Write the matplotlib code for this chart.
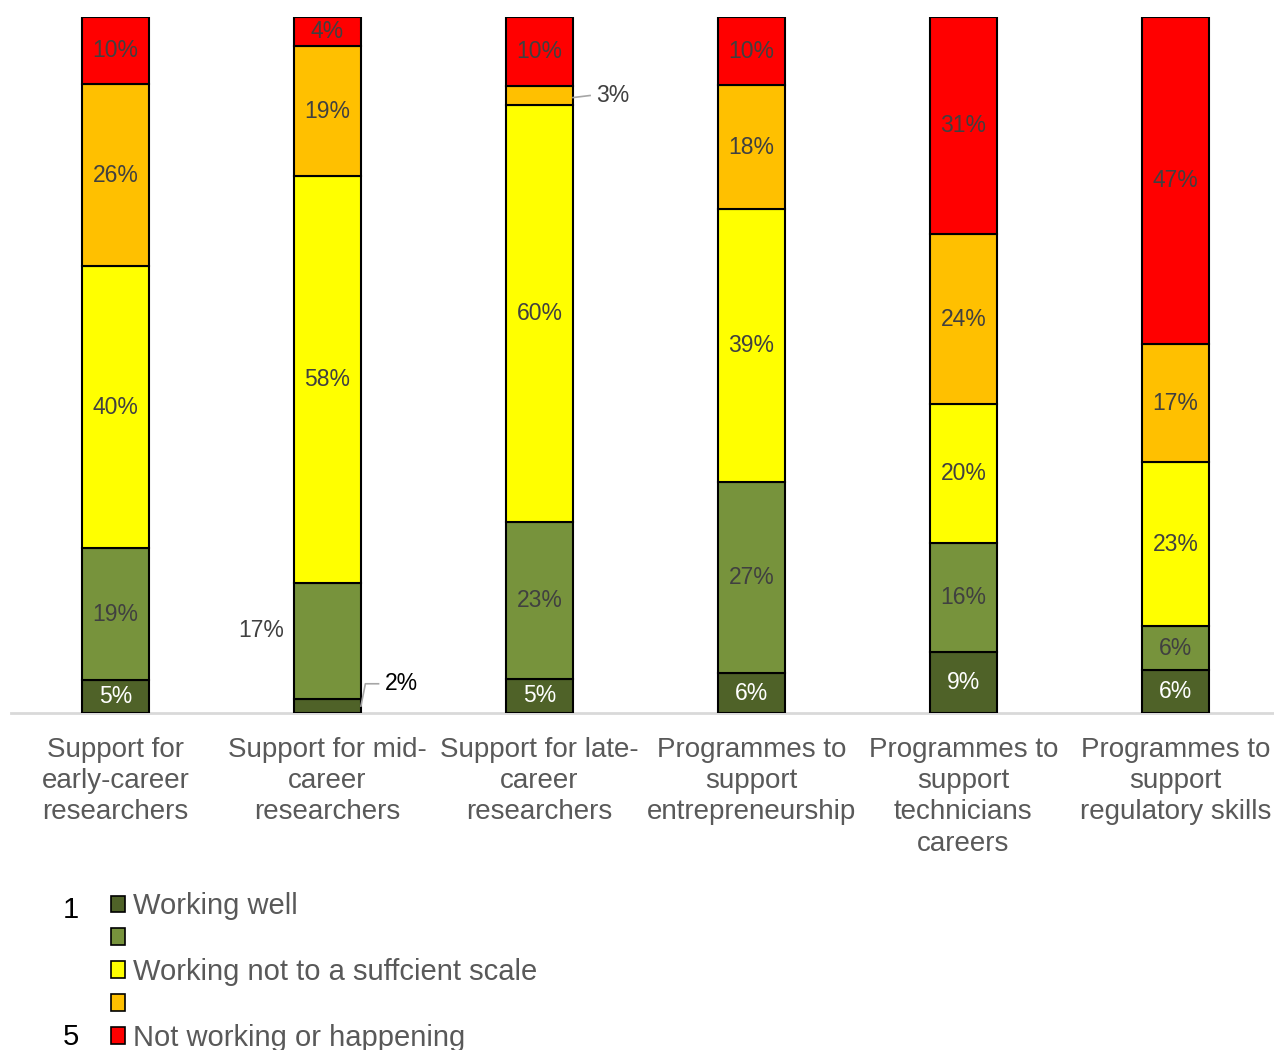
import matplotlib
matplotlib.use("Agg")
import matplotlib.pyplot as plt
from matplotlib.patches import Patch
import numpy as np

plt.rcParams['font.family'] = ['Liberation Sans', 'DejaVu Sans']

categories = [
    "Support for\nearly-career\nresearchers",
    "Support for mid-\ncareer\nresearchers",
    "Support for late-\ncareer\nresearchers",
    "Programmes to\nsupport\nentrepreneurship",
    "Programmes to\nsupport\ntechnicians\ncareers",
    "Programmes to\nsupport\nregulatory skills",
]
series_names = ["Working well", " ", "Working not to a suffcient scale", " ", "Not working or happening"]
working_well = [4.7, 2.0, 4.9, 5.7, 8.8, 6.1]
level_2 = [19.0, 16.7, 22.6, 27.4, 15.6, 6.4]
not_sufficient = [40.4, 58.4, 60.1, 39.2, 20.0, 23.4]
level_4 = [26.2, 18.7, 2.6, 17.7, 24.4, 17.0]
not_working = [9.6, 4.2, 10.0, 9.8, 31.2, 46.8]
colors = ["#4F6228", "#77933C", "#FFFF00", "#FFC000", "#FF0000"]
label_colors = ["white", "#404040", "#404040", "#404040", "#404040"]

data = np.array([working_well, level_2, not_sufficient, level_4, not_working], dtype=float)
totals = data.sum(axis=0)
pct = data / totals * 100  # 100% stacked

fig = plt.figure(figsize=(12.74, 10.5), dpi=100)
ax = fig.add_axes([10.5/1274, 337/1050, 1263.5/1274, 696/1050])

x = np.arange(len(categories))
width = 0.316
bottom = np.zeros(len(categories))
fs = 16.5
for s in range(5):
    ax.bar(x, pct[s], width, bottom=bottom, color=colors[s], edgecolor="black", linewidth=1.5, zorder=3)
    for i in range(len(categories)):
        lab = f"{int(round(data[s, i]))}%"
        yc = bottom[i] + pct[s, i] / 2
        xe = x[i] + width / 2
        if i == 1 and s == 0:
            ax.plot([xe, xe + 0.021, xe + 0.083], [yc, yc + 3.2, yc + 3.2], color="#A6A6A6", lw=1.2, zorder=4)
            ax.text(xe + 0.19, yc + 3.2, lab, ha="center", va="center", fontsize=fs, color="black")
        elif i == 1 and s == 1:
            ax.text(x[i] - 0.311, yc + 1.5, lab, ha="center", va="center", fontsize=fs, color="#404040")
        elif i == 2 and s == 3:
            ax.plot([xe, xe + 0.081], [yc - 0.3, yc], color="#A6A6A6", lw=1.2, zorder=4)
            ax.text(xe + 0.19, yc, lab, ha="center", va="center", fontsize=fs, color="#404040")
        else:
            ax.text(x[i], yc, lab, ha="center", va="center", fontsize=fs, color=label_colors[s], zorder=5)
    bottom += pct[s]

ax.set_xlim(-0.495, 5.465)
ax.set_ylim(0, 100)
ax.set_yticks([])
ax.set_xticks(x)
ax.set_xticklabels(categories, fontsize=20, color="#595959", linespacing=1.27, va="top")
ax.tick_params(axis="x", length=0, pad=17)
for sp in ["top", "right", "left"]:
    ax.spines[sp].set_visible(False)
ax.spines["bottom"].set_color("#D9D9D9")
ax.spines["bottom"].set_linewidth(2)
ax.spines["bottom"].set_zorder(2)

handles = [Patch(facecolor=c, edgecolor="black", linewidth=1.2) for c in colors]
leg = fig.legend(handles, series_names, loc="upper left", bbox_to_anchor=(111/1274, 1 - 892/1050),
                 frameon=False, fontsize=21, handlelength=0.48, handleheight=0.48,
                 handletextpad=0.28, labelspacing=0.17, borderaxespad=0, borderpad=0)
for t in leg.get_texts():
    t.set_color("#595959")

fig.text(71/1274, 1 - 910/1050, "1", ha="center", va="center", fontsize=21, color="black")
fig.text(71/1274, 1 - 1037/1050, "5", ha="center", va="center", fontsize=21, color="black")

fig.savefig("out.png", dpi=100)
